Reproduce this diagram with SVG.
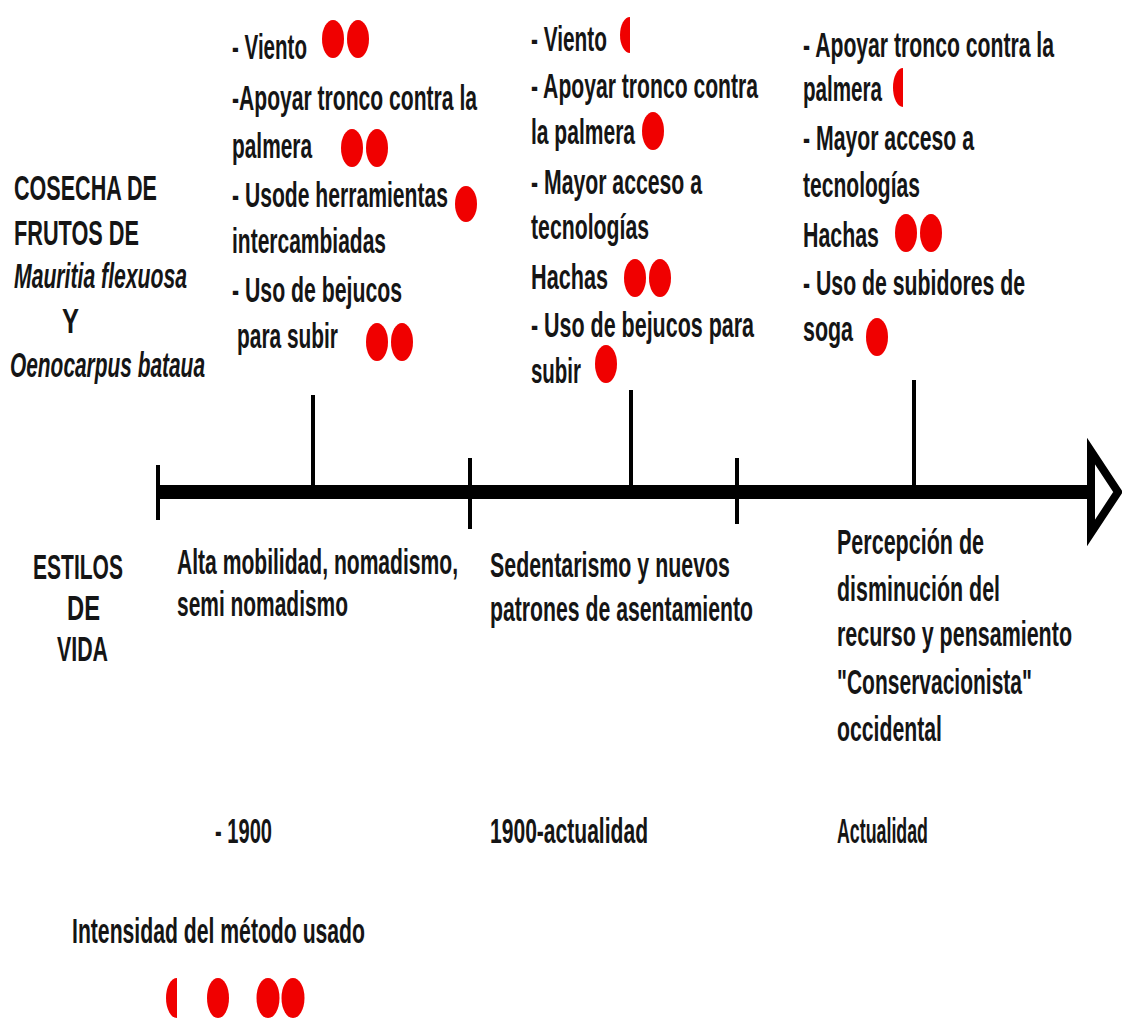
<svg xmlns="http://www.w3.org/2000/svg" width="1122" height="1020" viewBox="0 0 1122 1020">
<defs>
<style>
.t{font-family:"Liberation Sans",Arial,sans-serif;font-size:35px;font-weight:bold;fill:#151515}
.i{font-style:italic}
.d{fill:#f00000}
.tk{stroke:#000;stroke-width:4;fill:none}
</style>
</defs>
<rect width="1122" height="1020" fill="#fff"/>
<g id="connectors">
<line x1="158" y1="492" x2="1092" y2="492" stroke="#000" stroke-width="14"/>
<path d="M1091,451 L1091,533 L1118,492 Z" fill="#fff" stroke="#000" stroke-width="8" stroke-linejoin="miter"/>
<line class="tk" x1="158" y1="465" x2="158" y2="520"/>
<line class="tk" x1="313" y1="395" x2="313" y2="492"/>
<line class="tk" x1="470" y1="458" x2="470" y2="529"/>
<line class="tk" x1="631" y1="390" x2="631" y2="492"/>
<line class="tk" x1="737" y1="458" x2="737" y2="524"/>
<line class="tk" x1="914" y1="380" x2="914" y2="492"/>
</g>
<g id="title">
<text class="t" x="14" y="200" textLength="143" lengthAdjust="spacingAndGlyphs">COSECHA DE</text>
<text class="t" x="14" y="245" textLength="125" lengthAdjust="spacingAndGlyphs">FRUTOS DE</text>
<text class="t i" x="14" y="288" textLength="173" lengthAdjust="spacingAndGlyphs">Mauritia flexuosa</text>
<text class="t" x="62" y="333" textLength="17" lengthAdjust="spacingAndGlyphs">Y</text>
<text class="t i" x="10" y="377" textLength="195" lengthAdjust="spacingAndGlyphs">Oenocarpus bataua</text>
</g>
<g id="col1">
<text class="t" x="232" y="59" textLength="75" lengthAdjust="spacingAndGlyphs">- Viento</text>
<ellipse class="d" cx="333" cy="39" rx="11" ry="19"/>
<ellipse class="d" cx="358" cy="39" rx="11" ry="19"/>
<text class="t" x="232" y="110" textLength="245" lengthAdjust="spacingAndGlyphs">-Apoyar tronco contra la</text>
<text class="t" x="232" y="158" textLength="80" lengthAdjust="spacingAndGlyphs">palmera</text>
<ellipse class="d" cx="352" cy="148" rx="11" ry="19"/>
<ellipse class="d" cx="377" cy="148" rx="11" ry="19"/>
<text class="t" x="232" y="207" textLength="216" lengthAdjust="spacingAndGlyphs">- Usode herramientas</text>
<ellipse class="d" cx="466" cy="204" rx="11" ry="18"/>
<text class="t" x="232" y="253" textLength="154" lengthAdjust="spacingAndGlyphs">intercambiadas</text>
<text class="t" x="232" y="302" textLength="170" lengthAdjust="spacingAndGlyphs">- Uso de bejucos</text>
<text class="t" x="237" y="348" textLength="101" lengthAdjust="spacingAndGlyphs">para subir</text>
<ellipse class="d" cx="377" cy="342" rx="11" ry="19"/>
<ellipse class="d" cx="402" cy="342" rx="11" ry="19"/>
</g>
<g id="col2">
<text class="t" x="531" y="51" textLength="76" lengthAdjust="spacingAndGlyphs">- Viento</text>
<path class="d" d="M630,17 A10,18 0 0 0 630,53 Z"/>
<text class="t" x="531" y="98" textLength="227" lengthAdjust="spacingAndGlyphs">- Apoyar tronco contra</text>
<text class="t" x="531" y="144" textLength="104" lengthAdjust="spacingAndGlyphs">la palmera</text>
<ellipse class="d" cx="653" cy="131" rx="11" ry="19"/>
<text class="t" x="531" y="194" textLength="171" lengthAdjust="spacingAndGlyphs">- Mayor acceso a</text>
<text class="t" x="531" y="239" textLength="118" lengthAdjust="spacingAndGlyphs">tecnologías</text>
<text class="t" x="531" y="289" textLength="77" lengthAdjust="spacingAndGlyphs">Hachas</text>
<ellipse class="d" cx="635" cy="278" rx="11" ry="19"/>
<ellipse class="d" cx="660" cy="278" rx="11" ry="19"/>
<text class="t" x="531" y="337" textLength="223" lengthAdjust="spacingAndGlyphs">- Uso de bejucos para</text>
<text class="t" x="531" y="383" textLength="50" lengthAdjust="spacingAndGlyphs">subir</text>
<ellipse class="d" cx="606" cy="364" rx="11" ry="19"/>
</g>
<g id="col3">
<text class="t" x="803" y="57" textLength="251" lengthAdjust="spacingAndGlyphs">- Apoyar tronco contra la</text>
<text class="t" x="803" y="101" textLength="79" lengthAdjust="spacingAndGlyphs">palmera</text>
<path class="d" d="M903,68 A10,19.5 0 0 0 903,107 Z"/>
<text class="t" x="803" y="150" textLength="171" lengthAdjust="spacingAndGlyphs">- Mayor acceso a</text>
<text class="t" x="803" y="197" textLength="117" lengthAdjust="spacingAndGlyphs">tecnologías</text>
<text class="t" x="803" y="247" textLength="76" lengthAdjust="spacingAndGlyphs">Hachas</text>
<ellipse class="d" cx="906" cy="233" rx="11" ry="19"/>
<ellipse class="d" cx="931" cy="233" rx="11" ry="19"/>
<text class="t" x="803" y="295" textLength="222" lengthAdjust="spacingAndGlyphs">- Uso de subidores de</text>
<text class="t" x="803" y="341" textLength="50" lengthAdjust="spacingAndGlyphs">soga</text>
<ellipse class="d" cx="877" cy="337" rx="11" ry="19"/>
</g>
<g id="estilos">
<text class="t" x="33" y="579" textLength="90" lengthAdjust="spacingAndGlyphs">ESTILOS</text>
<text class="t" x="67" y="620" textLength="33" lengthAdjust="spacingAndGlyphs">DE</text>
<text class="t" x="57" y="661" textLength="51" lengthAdjust="spacingAndGlyphs">VIDA</text>
</g>
<g id="period1">
<text class="t" x="177" y="574" textLength="281" lengthAdjust="spacingAndGlyphs">Alta mobilidad, nomadismo,</text>
<text class="t" x="177" y="616" textLength="171" lengthAdjust="spacingAndGlyphs">semi nomadismo</text>
<text class="t" x="215" y="843" textLength="57" lengthAdjust="spacingAndGlyphs">- 1900</text>
</g>
<g id="period2">
<text class="t" x="490" y="577" textLength="240" lengthAdjust="spacingAndGlyphs">Sedentarismo y nuevos</text>
<text class="t" x="490" y="621" textLength="263" lengthAdjust="spacingAndGlyphs">patrones de asentamiento</text>
<text class="t" x="490" y="843" textLength="158" lengthAdjust="spacingAndGlyphs">1900-actualidad</text>
</g>
<g id="period3">
<text class="t" x="837" y="554" textLength="147" lengthAdjust="spacingAndGlyphs">Percepción de</text>
<text class="t" x="837" y="601" textLength="163" lengthAdjust="spacingAndGlyphs">disminución del</text>
<text class="t" x="837" y="646" textLength="235" lengthAdjust="spacingAndGlyphs">recurso y pensamiento</text>
<text class="t" x="837" y="694" textLength="195" lengthAdjust="spacingAndGlyphs">"Conservacionista"</text>
<text class="t" x="837" y="741" textLength="105" lengthAdjust="spacingAndGlyphs">occidental</text>
<text class="t" x="837" y="843" textLength="91" lengthAdjust="spacingAndGlyphs">Actualidad</text>
</g>
<g id="legend">
<text class="t" x="72" y="943" textLength="293" lengthAdjust="spacingAndGlyphs">Intensidad del método usado</text>
<path class="d" d="M177,978 A11,20 0 0 0 177,1018 Z"/>
<ellipse class="d" cx="218" cy="998" rx="11" ry="20"/>
<ellipse class="d" cx="268" cy="998" rx="11.5" ry="20"/>
<ellipse class="d" cx="293" cy="998" rx="11.5" ry="20"/>
</g>
</svg>
